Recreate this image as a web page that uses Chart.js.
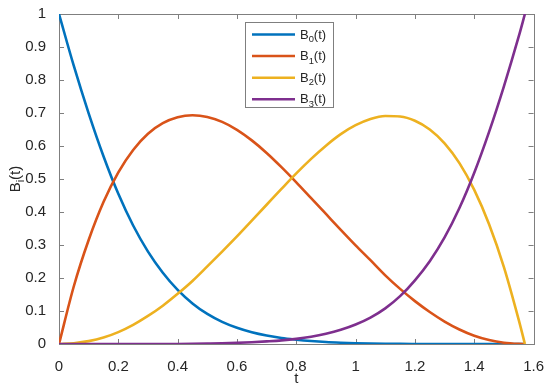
<!DOCTYPE html>
<html>
<head>
<meta charset="utf-8">
<script src="https://cdn.jsdelivr.net/npm/chart.js@4.4.1/dist/chart.umd.min.js"></script>
<style>
    html, body { margin: 0; padding: 0; background: #fff; }
    #wrap { width: 550px; height: 387px; position: relative; }
</style>
</head>
<body>
<div id="wrap"><canvas id="chart"></canvas></div>
<script>
// values
const tValues = [0, 0.05, 0.1, 0.15, 0.2, 0.25, 0.3, 0.35, 0.4, 0.45, 0.5, 0.55, 0.6, 0.65, 0.7, 0.75, 0.8,
    0.85, 0.9, 0.95, 1.0, 1.05, 1.1, 1.15, 1.2, 1.25, 1.3, 1.35, 1.4, 1.45, 1.5, 1.55, 1.5708]
const b0 = [1, 0.8425, 0.699, 0.569, 0.455, 0.359, 0.28, 0.216, 0.164, 0.123, 0.091, 0.067, 0.049, 0.0355, 0.0255, 0.018, 0.013,
    0.009, 0.006, 0.004, 0.0025, 0.0015, 0.0008, 0.0003, 0.0001, 0, 0, 0, 0, 0, 0, 0, 0]
const b1 = [0, 0.175, 0.315, 0.43, 0.52, 0.588, 0.637, 0.669, 0.687, 0.693, 0.688, 0.673, 0.649, 0.617, 0.579, 0.536, 0.49,
    0.442, 0.394, 0.346, 0.299, 0.254, 0.208, 0.167, 0.13, 0.097, 0.068, 0.044, 0.025, 0.012, 0.004, 0.0005, 0]
const b2 = [0, 0.0025, 0.0087, 0.0196, 0.036, 0.058, 0.085, 0.116, 0.152, 0.191, 0.235, 0.28, 0.326, 0.374, 0.422, 0.47, 0.517,
    0.561, 0.601, 0.636, 0.663, 0.682, 0.691, 0.6895, 0.6765, 0.65, 0.608, 0.548, 0.467, 0.363, 0.233, 0.073, 0]
const b3 = [0, 0, 0, 0, 0, 0, 0, 0, 0.0002, 0.0006, 0.0012, 0.002, 0.0035, 0.0055, 0.008, 0.011, 0.0155,
    0.022, 0.031, 0.043, 0.059, 0.08, 0.108, 0.145, 0.193, 0.251, 0.323, 0.412, 0.519, 0.643, 0.781, 0.932, 1]

const seriesLabels = ['B_0(t)', 'B_1(t)', 'B_2(t)', 'B_3(t)']
const seriesColors = ['#0072BD', '#D95319', '#EDB120', '#7E2F8E']
const xTicks = [0, 0.2, 0.4, 0.6, 0.8, 1, 1.2, 1.4, 1.6]
const yTicks = [0, 0.1, 0.2, 0.3, 0.4, 0.5, 0.6, 0.7, 0.8, 0.9, 1]
const xTitle = 't'
const yTitle = 'B_i(t)'

const FONT = '"Liberation Sans", Arial, Helvetica, sans-serif'
const TEXT = '#262626'
const AXIS = '#7f7f7f'

// text like B_0(t) with a small lowered subscript
function subText(ctx, str, x, y, size, measureOnly) {
    const [base, tail] = str.split('_')
    const sub = tail.charAt(0)
    const rest = tail.slice(1)
    const subSize = size * 0.72
    ctx.font = `${size}px ${FONT}`
    const w1 = ctx.measureText(base).width
    const w3 = ctx.measureText(rest).width
    ctx.font = `${subSize}px ${FONT}`
    const w2 = ctx.measureText(sub).width
    if (measureOnly) return w1 + w2 + w3
    ctx.font = `${size}px ${FONT}`
    ctx.fillText(base, x, y)
    ctx.font = `${subSize}px ${FONT}`
    ctx.fillText(sub, x + w1, y + size * 0.28)
    ctx.font = `${size}px ${FONT}`
    ctx.fillText(rest, x + w1 + w2, y)
    return w1 + w2 + w3
}

const frame = {
    id: 'frame',
    beforeDatasetsDraw(chart) {
        const { ctx, chartArea: a, scales } = chart
        ctx.save()
        ctx.strokeStyle = AXIS
        ctx.lineWidth = 1
        ctx.strokeRect(Math.round(a.left) + 0.5, Math.round(a.top) + 0.5,
            Math.round(a.right - a.left), Math.round(a.bottom - a.top))
        const len = 5
        ctx.beginPath()
        xTicks.forEach(v => {
            const px = Math.round(scales.x.getPixelForValue(v)) + 0.5
            ctx.moveTo(px, a.bottom); ctx.lineTo(px, a.bottom - len)
            ctx.moveTo(px, a.top); ctx.lineTo(px, a.top + len)
        })
        yTicks.forEach(v => {
            const py = Math.round(scales.y.getPixelForValue(v)) + 0.5
            ctx.moveTo(a.left, py); ctx.lineTo(a.left + len, py)
            ctx.moveTo(a.right, py); ctx.lineTo(a.right - len, py)
        })
        ctx.stroke()
        ctx.restore()
    },
    afterDraw(chart) {
        const { ctx, chartArea: a } = chart
        ctx.save()
        ctx.fillStyle = TEXT
        ctx.textBaseline = 'alphabetic'

        // x title
        ctx.font = `15px ${FONT}`
        ctx.textAlign = 'center'
        ctx.fillText(xTitle, (a.left + a.right) / 2, 383)

        // y title, rotated
        ctx.textAlign = 'left'
        ctx.translate(20, (a.top + a.bottom) / 2)
        ctx.rotate(-Math.PI / 2)
        const w = subText(ctx, yTitle, 0, 0, 15, true)
        subText(ctx, yTitle, -w / 2, 0, 15)
        ctx.setTransform(1, 0, 0, 1, 0, 0)

        // legend
        const bx = 245.5, by = 22.5, bw = 88, bh = 85
        ctx.fillStyle = '#fff'
        ctx.fillRect(bx, by, bw, bh)
        ctx.strokeStyle = AXIS
        ctx.lineWidth = 1
        ctx.strokeRect(bx, by, bw, bh)
        chart.data.datasets.forEach((ds, i) => {
            const ly = 34.5 + i * 21.6
            ctx.strokeStyle = ds.borderColor
            ctx.lineWidth = 2.5
            ctx.beginPath()
            ctx.moveTo(252, ly); ctx.lineTo(295, ly)
            ctx.stroke()
            ctx.fillStyle = TEXT
            subText(ctx, ds.label, 300, ly + 4, 13)
        })
        ctx.restore()
    }
}

const datasets = [b0, b1, b2, b3].map((vals, i) => ({
    label: seriesLabels[i],
    data: tValues.map((t, k) => ({ x: t, y: vals[k] })),
    borderColor: seriesColors[i],
    backgroundColor: seriesColors[i],
    borderWidth: 2.6,
    pointRadius: 0,
    cubicInterpolationMode: 'monotone',
    order: 3 - i
}))

new Chart(document.getElementById('chart'), {
    type: 'line',
    data: { datasets },
    plugins: [frame],
    options: {
        responsive: true,
        maintainAspectRatio: false,
        animation: false,
        layout: { padding: { top: 11, right: 16, left: 0, bottom: 0 } },
        plugins: {
            legend: { display: false },
            tooltip: { enabled: false }
        },
        scales: {
            x: {
                type: 'linear',
                min: 0,
                max: 1.6,
                grid: { display: false },
                border: { display: false },
                afterBuildTicks: s => { s.ticks = xTicks.map(v => ({ value: v })) },
                afterFit: s => { s.height = 43 },
                ticks: {
                    padding: 6,
                    color: TEXT,
                    font: { family: FONT, size: 15 },
                    maxRotation: 0,
                    autoSkip: false,
                    callback: v => String(+v.toFixed(1))
                }
            },
            y: {
                min: 0,
                max: 1,
                grid: { display: false },
                border: { display: false },
                afterBuildTicks: s => { s.ticks = yTicks.map(v => ({ value: v })) },
                afterFit: s => { s.width = 59 },
                ticks: {
                    padding: 5,
                    color: TEXT,
                    font: { family: FONT, size: 15 },
                    autoSkip: false,
                    callback: v => String(+v.toFixed(1))
                }
            }
        }
    }
})
</script>
</body>
</html>
